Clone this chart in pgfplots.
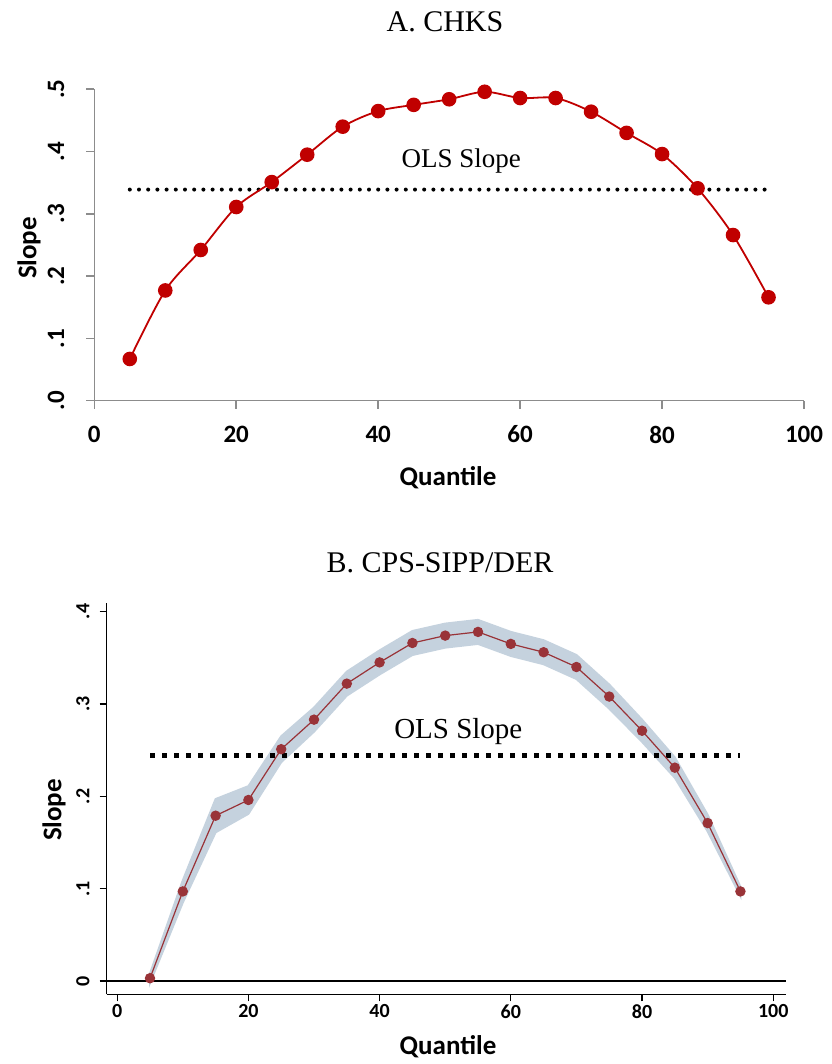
\documentclass[border=0pt]{standalone}
\usepackage{pgfplots}
\pgfplotsset{compat=1.18}
\usepackage{fontspec}
\setmainfont{Liberation Serif}
\newfontfamily\calfont{Carlito}
\definecolor{chksred}{HTML}{C00000}
\definecolor{cpsred}{HTML}{993338}
\definecolor{band}{HTML}{C5D2DE}
\definecolor{axgray}{HTML}{8C8C8C}
\begin{document}
\begin{tikzpicture}
\useasboundingbox (0,0) rectangle (415.5pt,532pt);

% panel A
\begin{axis}[
    at={(47.15pt,331.65pt)}, anchor=south west,
    scale only axis, width=354.85pt, height=155.7pt,
    xmin=0, xmax=100, ymin=0, ymax=0.5,
    clip=false,
    axis x line*=bottom, axis y line*=left,
    axis line style={axgray, line width=0.8pt},
    every tick/.style={axgray, line width=0.8pt},
    tick align=outside, major tick length=4pt,
    xtick={0,20,40,60,80,100}, xticklabels={0,20,40,60,80,100},
    ytick={0,0.1,0.2,0.3,0.4,0.5}, yticklabels={.0,.1,.2,.3,.4,.5},
    tick label style={font=\calfont\bfseries\fontsize{12.5}{12.5}\selectfont},
    xticklabel style={anchor=north, yshift=-5pt},
    yticklabel style={rotate=90, anchor=south, yshift=7.5pt},
]
\addplot[black, line width=2pt, line cap=round, dash pattern=on 0pt off 4.6pt]
  coordinates {(5,0.339) (95,0.339)};
\addplot[chksred, line width=0.9pt, smooth, mark=*, mark size=3.2pt,
  mark options={solid, fill=chksred}] coordinates {
(5,0.067) (10,0.177) (15,0.242) (20,0.311) (25,0.351)
(30,0.395) (35,0.440) (40,0.465) (45,0.475) (50,0.484)
(55,0.496) (60,0.486) (65,0.486) (70,0.464) (75,0.430)
(80,0.396) (85,0.341) (90,0.266) (95,0.166)
};
\node[font=\fontsize{13.5}{13.5}\selectfont] at (axis cs:51.7,0.385) {OLS Slope};
\end{axis}

% panel B
\begin{axis}[
    at={(53.35pt,34.85pt)}, anchor=south west,
    scale only axis, width=339.5pt, height=195.5pt,
    xmin=-1.6, xmax=101.9, ymin=-0.0144, ymax=0.409,
    clip=false,
    axis x line*=bottom, axis y line*=left,
    axis line style={black, line width=0.6pt},
    every tick/.style={black, line width=0.6pt},
    tick align=outside, major tick length=3.5pt,
    xtick={0,20,40,60,80,100}, xticklabels={0,20,40,60,80,100},
    ytick={0,0.1,0.2,0.3,0.4}, yticklabels={0,.1,.2,.3,.4},
    tick label style={font=\calfont\bfseries\fontsize{10}{10}\selectfont},
    xticklabel style={anchor=north, yshift=2pt},
    yticklabel style={rotate=90, anchor=south, yshift=1.5pt},
]
\addplot[black, line width=0.6pt] coordinates {(-1.6,0) (101.9,0)};
\addplot[fill=band, draw=band, line width=1pt] coordinates {
(5,0.008) (10,0.109) (15,0.197) (20,0.211) (25,0.265) (30,0.296)
(35,0.335) (40,0.358) (45,0.379) (50,0.387) (55,0.391) (60,0.378)
(65,0.369) (70,0.353) (75,0.321) (80,0.283) (85,0.242) (90,0.180)
(95,0.102)
(95,0.092) (90,0.162) (85,0.220) (80,0.259) (75,0.295) (70,0.327)
(65,0.343) (60,0.352) (55,0.365) (50,0.361) (45,0.353) (40,0.332)
(35,0.309) (30,0.270) (25,0.237) (20,0.181) (15,0.161) (10,0.085)
(5,-0.002)
} -- cycle;
\addplot[black, line width=2.6pt, dash pattern=on 2.6pt off 3.4pt]
  coordinates {(5,0.244) (95,0.244)};
\addplot[cpsred, line width=0.6pt, mark=*, mark size=2.3pt,
  mark options={solid, fill=cpsred}] coordinates {
(5,0.003) (10,0.097) (15,0.179) (20,0.196) (25,0.251)
(30,0.283) (35,0.322) (40,0.345) (45,0.366) (50,0.374)
(55,0.378) (60,0.365) (65,0.356) (70,0.340) (75,0.308)
(80,0.271) (85,0.231) (90,0.171) (95,0.097)
};
\node[font=\fontsize{14.5}{14.5}\selectfont] at (axis cs:52,0.270) {OLS Slope};
\end{axis}

\node[font=\fontsize{15}{15}\selectfont] at (222.5pt,521pt) {A. CHKS};
\node[font=\fontsize{15}{15}\selectfont] at (220pt,250.5pt) {B. CPS-SIPP/DER};
\node[font=\calfont\bfseries\fontsize{13.5}{13.5}\selectfont] at (224pt,293pt) {Quantile};
\node[font=\calfont\bfseries\fontsize{13.5}{13.5}\selectfont, rotate=90] at (14.5pt,408pt) {Slope};
\node[font=\calfont\bfseries\fontsize{13.5}{13.5}\selectfont] at (224pt,8.5pt) {Quantile};
\node[font=\calfont\bfseries\fontsize{13.5}{13.5}\selectfont, rotate=90] at (27pt,127pt) {Slope};
\end{tikzpicture}
\end{document}
